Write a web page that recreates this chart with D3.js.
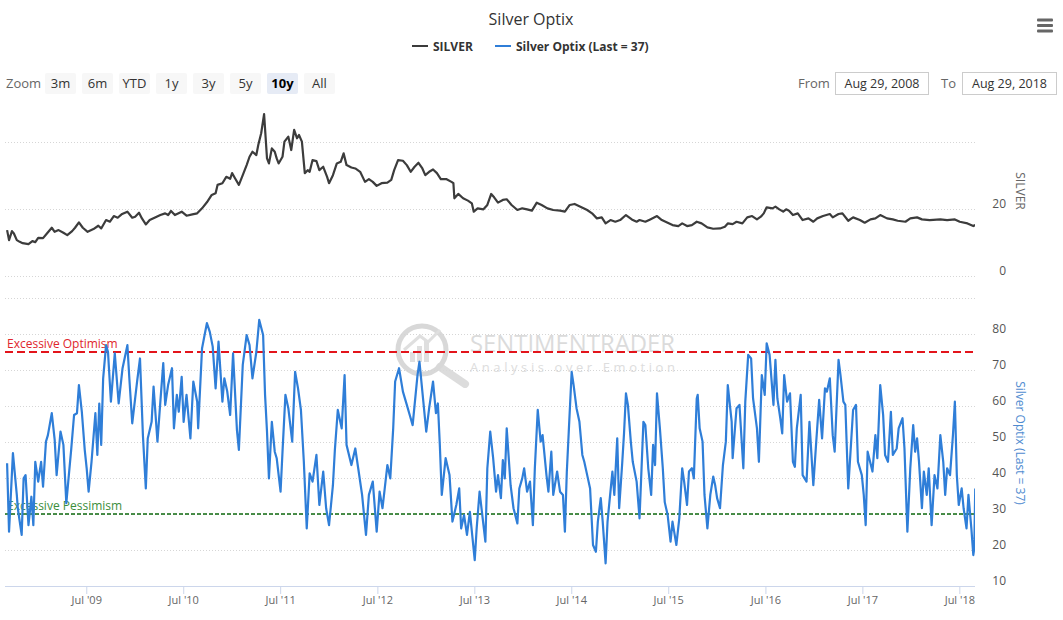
<!DOCTYPE html>
<html><head><meta charset="utf-8">
<script src="https://cdn.jsdelivr.net/npm/d3@7"></script>
<style>
body{margin:0;background:#fff;}
svg{display:block;font-family:"Open Sans",sans-serif;}
</style></head><body>
<svg id="chart" width="1063" height="620"></svg>
<script>
// ---------- DATA (dates as decimal years) ----------
const silverYears = [
2008.68,2008.70,2008.73,2008.75,2008.78,2008.81,2008.84,2008.90,2008.94,2008.97,
2009.00,2009.05,2009.09,2009.14,2009.17,2009.21,2009.26,2009.30,2009.35,2009.38,
2009.42,2009.46,2009.51,2009.57,2009.62,2009.65,2009.70,2009.74,2009.78,2009.82,
2009.86,2009.92,2009.97,2010.00,2010.04,2010.07,2010.11,2010.15,2010.20,2010.26,
2010.31,2010.34,2010.37,2010.41,2010.48,2010.53,2010.59,2010.64,2010.69,2010.74,
2010.79,2010.83,2010.85,2010.90,2010.94,2010.98,2011.00,2011.03,2011.07,2011.11,
2011.15,2011.18,2011.21,2011.25,2011.27,2011.30,2011.33,2011.36,2011.38,2011.41,
2011.44,2011.46,2011.48,2011.52,2011.54,2011.58,2011.61,2011.64,2011.67,2011.69,
2011.72,2011.75,2011.78,2011.80,2011.83,2011.87,2011.90,2011.94,2011.98,2012.00,
2012.04,2012.08,2012.12,2012.15,2012.18,2012.23,2012.27,2012.32,2012.37,2012.41,
2012.45,2012.49,2012.54,2012.60,2012.64,2012.67,2012.71,2012.76,2012.80,2012.84,
2012.88,2012.92,2012.96,2012.99,2013.03,2013.07,2013.11,2013.15,2013.21,2013.26,
2013.28,2013.29,2013.33,2013.38,2013.43,2013.47,2013.49,2013.53,2013.59,2013.63,
2013.67,2013.70,2013.74,2013.79,2013.83,2013.88,2013.94,2013.99,2014.04,2014.09,
2014.14,2014.19,2014.25,2014.31,2014.38,2014.43,2014.48,2014.53,2014.59,2014.66,
2014.71,2014.76,2014.81,2014.85,2014.90,2014.95,2015.00,2015.06,2015.12,2015.17,
2015.20,2015.26,2015.31,2015.38,2015.43,2015.49,2015.54,2015.60,2015.64,2015.69,
2015.74,2015.79,2015.84,2015.90,2015.96,2016.03,2016.08,2016.11,2016.16,2016.20,
2016.26,2016.31,2016.36,2016.41,2016.45,2016.48,2016.51,2016.57,2016.60,2016.64,
2016.68,2016.71,2016.74,2016.78,2016.83,2016.88,2016.94,2016.99,2017.03,2017.09,
2017.16,2017.19,2017.25,2017.29,2017.35,2017.40,2017.47,2017.52,2017.58,2017.63,
2017.68,2017.75,2017.81,2017.86,2017.94,2017.99,2018.06,2018.11,2018.19,2018.30,
2018.37,2018.45,2018.50,2018.58,2018.64,2018.66];
const silverValues = [
13.7,10.7,13.4,12.7,10.7,10.2,9.8,9.5,10.4,10.1,
11.4,11.3,12.7,14.4,13.2,13.7,12.9,12.2,13.4,14.4,
16.0,14.4,13.2,14.0,15.0,14.2,16.7,16.2,17.9,17.4,
18.4,19.2,17.4,17.7,18.9,17.2,15.4,16.7,17.4,18.2,
18.7,18.2,19.4,18.2,19.2,18.0,18.4,18.7,20.2,22.0,
24.2,24.7,27.2,27.7,29.6,29.0,30.7,29.2,27.2,30.1,
33.1,35.6,37.1,36.1,39.1,42.6,48.3,35.1,33.6,38.1,
37.1,35.1,33.6,35.6,40.1,41.6,37.6,43.6,41.1,42.1,
40.1,30.7,31.6,31.1,34.6,34.3,31.6,32.6,29.6,27.7,
30.1,33.6,34.1,36.6,33.1,32.4,32.1,31.1,28.1,28.9,
28.1,26.9,27.7,27.9,28.7,31.6,34.6,34.4,33.1,31.1,
32.6,33.8,32.1,30.1,31.1,31.8,30.7,28.9,28.9,28.1,
27.7,23.2,24.5,23.2,22.5,21.7,19.2,20.2,19.9,21.2,
24.5,23.5,21.9,22.7,22.9,21.2,19.7,20.2,19.9,19.5,
21.9,21.2,20.2,19.7,19.5,19.2,21.2,21.5,20.7,19.7,
18.7,17.2,17.5,15.7,16.7,16.2,16.7,18.2,16.9,16.2,
16.7,16.2,16.9,17.9,16.7,15.9,15.2,14.9,15.7,14.9,
15.2,16.2,15.7,14.5,14.1,14.2,14.7,15.7,15.5,16.2,
15.7,17.5,17.9,16.9,17.7,18.7,20.5,20.2,20.7,19.9,
19.2,19.9,19.5,18.2,18.7,16.7,17.2,16.2,17.2,17.9,
18.5,17.5,18.5,18.7,16.5,17.5,16.7,15.9,16.9,17.2,
18.2,17.2,16.9,16.5,16.2,17.2,17.5,16.9,16.7,16.9,
16.7,16.9,16.2,15.7,14.9,15.2];

const optixYears = [
2008.68,2008.70,2008.74,2008.78,2008.79,2008.83,2008.85,2008.87,2008.90,2008.93,
2008.95,2008.97,2009.00,2009.03,2009.05,2009.08,2009.10,2009.14,2009.17,2009.19,
2009.23,2009.26,2009.29,2009.31,2009.34,2009.37,2009.40,2009.42,2009.45,2009.48,
2009.50,2009.52,2009.55,2009.59,2009.61,2009.63,2009.65,2009.67,2009.70,2009.72,
2009.75,2009.79,2009.83,2009.87,2009.92,2009.94,2009.97,2010.00,2010.02,2010.05,
2010.08,2010.11,2010.13,2010.17,2010.19,2010.23,2010.26,2010.29,2010.31,2010.34,
2010.38,2010.40,2010.43,2010.45,2010.48,2010.50,2010.53,2010.57,2010.60,2010.64,
2010.65,2010.69,2010.71,2010.74,2010.77,2010.80,2010.83,2010.86,2010.90,2010.92,
2010.95,2010.98,2011.01,2011.05,2011.07,
2011.11,2011.15,2011.18,2011.21,2011.25,2011.28,2011.32,2011.34,2011.36,2011.38,
2011.41,2011.44,2011.46,2011.50,2011.52,2011.55,2011.58,2011.62,2011.65,2011.68,
2011.71,2011.74,2011.77,2011.80,2011.83,2011.87,2011.90,2011.94,2011.97,2012.00,
2012.04,2012.06,2012.09,2012.13,2012.16,2012.18,2012.23,2012.27,2012.30,2012.34,
2012.38,2012.41,2012.45,2012.49,2012.52,2012.55,2012.60,2012.63,2012.66,2012.68,
2012.72,2012.76,2012.80,2012.83,2012.86,2012.91,2012.93,2012.97,2013.00,2013.03,
2013.07,2013.10,2013.12,2013.14,2013.16,2013.20,2013.24,2013.27,2013.31,2013.34,
2013.36,2013.39,2013.42,2013.45,2013.50,2013.52,
2013.55,2013.61,2013.63,2013.66,2013.69,2013.72,2013.74,2013.77,2013.79,2013.81,
2013.83,2013.87,2013.90,2013.94,2013.96,2013.99,2014.01,2014.04,2014.07,2014.10,
2014.12,2014.15,2014.18,2014.20,2014.24,2014.26,2014.29,2014.31,2014.35,2014.38,
2014.41,2014.43,2014.45,2014.47,2014.50,2014.52,2014.55,2014.58,2014.61,2014.63,
2014.66,2014.69,2014.72,2014.75,2014.77,2014.80,2014.82,2014.85,2014.87,2014.92,
2014.94,2014.97,2014.99,2015.02,2015.04,2015.06,2015.08,2015.11,2015.13,2015.17,
2015.20,2015.24,2015.26,2015.29,2015.32,2015.34,2015.36,2015.38,2015.41,2015.44,
2015.46,2015.49,2015.52,2015.54,2015.58,2015.61,2015.64,2015.66,2015.69,2015.71,
2015.74,2015.76,2015.79,2015.80,2015.82,2015.85,2015.87,2015.90,2015.93,2015.96,
2015.98,2016.00,
2016.03,2016.06,2016.09,2016.11,2016.15,2016.16,2016.20,2016.23,2016.27,2016.29,
2016.32,2016.35,2016.37,2016.41,2016.43,2016.46,2016.49,2016.51,2016.54,2016.58,
2016.60,2016.62,2016.65,2016.67,2016.69,2016.72,2016.75,2016.78,2016.80,2016.82,
2016.86,2016.88,2016.92,2016.95,2016.99,2017.02,2017.05,2017.08,2017.11,2017.13,
2017.16,2017.19,2017.21,2017.25,2017.27,2017.30,2017.32,2017.35,2017.38,2017.40,
2017.43,2017.45,2017.49,2017.51,2017.53,2017.55,2017.60,2017.63,2017.65,2017.68,
2017.71,2017.73,2017.76,2017.79,2017.81,2017.85,2017.87,2017.91,2017.93,2017.96,
2017.99,2018.02,2018.04,2018.06,2018.08,2018.11,2018.13,2018.16,2018.18,2018.21,
2018.24,2018.27,2018.30,2018.33,2018.35,2018.37,2018.40,2018.43,2018.45,2018.47,
2018.49,2018.52,2018.54,2018.57,2018.59,2018.62,2018.64,2018.65,2018.66];
const optixValues = [
44.1,25.1,46.9,35.3,31.6,24.2,39.9,40.8,26.9,34.8,
26.9,44.5,39.0,44.5,37.6,50.1,51.9,58.0,50.6,40.8,
52.9,49.2,33.0,39.0,47.8,57.5,58.0,65.8,58.4,47.8,
42.7,36.2,44.5,58.0,46.4,60.7,49.2,67.7,76.9,75.0,
61.2,74.6,60.7,70.5,76.9,67.7,55.2,62.1,66.8,73.2,
51.9,37.1,51.0,55.6,65.4,50.1,61.2,71.9,60.3,65.8,
70.5,53.8,63.1,58.4,68.1,55.6,63.1,51.0,66.8,61.2,
53.8,76.0,78.8,83.0,80.6,76.5,64.9,77.9,61.2,67.7,
64.0,57.5,74.6,53.3,47.8,
71.4,79.7,76.9,67.7,75.0,83.9,79.7,63.1,52.9,39.9,
55.6,47.3,45.5,36.2,47.3,63.1,59.4,50.1,69.5,64.9,
58.9,44.5,26.0,41.3,39.0,46.4,32.5,41.8,31.6,26.9,
38.0,47.8,58.9,53.8,68.6,49.2,43.6,48.2,42.7,35.3,
24.2,35.3,39.0,25.1,36.2,31.6,43.6,39.9,53.8,66.8,
70.5,64.0,60.3,57.5,54.7,68.6,72.3,61.2,52.9,59.4,
66.8,58.0,60.7,49.2,35.3,45.5,40.8,27.9,32.5,37.1,
26.0,29.7,24.2,30.6,17.2,26.0,
36.2,22.3,42.7,52.9,45.5,36.2,40.8,34.4,45.0,39.9,
53.8,38.0,31.6,27.4,37.1,39.9,42.7,36.2,39.0,26.9,
42.7,58.9,50.1,51.9,40.8,36.2,47.3,35.3,41.8,36.2,
35.3,25.1,41.8,52.9,69.5,65.8,59.4,55.6,46.4,44.5,
40.8,37.1,21.4,19.5,27.9,34.4,27.9,16.3,27.9,41.8,
35.3,51.0,31.6,43.6,52.4,63.5,60.3,50.1,44.5,39.0,
28.8,55.6,54.7,42.7,35.3,49.2,43.6,63.5,53.8,42.7,
33.3,29.7,22.3,27.9,21.4,28.8,42.7,39.0,32.5,41.8,
42.7,39.9,62.1,63.1,53.8,50.1,35.3,26.0,35.3,40.4,
38.0,34.4,
31.6,43.6,50.1,65.8,55.6,45.5,59.4,60.3,42.7,61.2,
74.2,73.2,62.1,53.8,44.5,68.6,63.1,77.4,74.2,60.3,
72.8,62.1,56.6,52.4,68.6,61.2,63.5,44.5,43.1,53.8,
63.1,40.8,39.0,55.6,38.0,50.1,61.7,51.0,64.9,64.0,
67.7,51.9,47.3,72.8,68.6,61.2,60.3,37.1,50.1,58.9,
60.3,44.5,40.8,35.3,26.9,47.3,41.8,51.9,45.5,65.8,
57.5,46.4,44.5,58.4,46.4,48.2,53.8,56.6,48.2,25.1,
42.7,54.7,47.3,51.0,44.5,31.6,41.8,35.3,42.7,26.9,
40.8,37.1,51.9,44.5,35.3,42.7,40.8,51.9,61.2,40.8,
32.5,37.1,31.6,26.0,35.3,26.0,18.6,20.5,37.1];

const xTickYears = [2009,2010,2011,2012,2013,2014,2015,2016,2017,2018];
const silverGridTicks = [0,20,40];
const silverLabelTicks = [0,20];
const optixGridTicks = [20,30,40,50,60,70,80,90];
const optixLabelTicks = [10,20,30,40,50,60,70,80];
const optimismLevel = 75;
const pessimismLevel = 30;
const rangeButtons = ["3m","6m","YTD","1y","3y","5y","10y","All"];
const selectedButton = "10y";
const fromText = "Aug 29, 2008";
const toText = "Aug 29, 2018";
const lastOptix = 37;

// ---------- helpers ----------
function yearToDate(d){
  const y = Math.floor(d);
  const s = new Date(y,0,1).getTime(), e = new Date(y+1,0,1).getTime();
  return new Date(s + (d - y) * (e - s));
}
const nS = Math.min(silverYears.length, silverValues.length);
const nO = Math.min(optixYears.length, optixValues.length);
const silverData = silverYears.slice(0,nS).map((t,i)=>({date:yearToDate(t), v:silverValues[i]}));
const optixData = optixYears.slice(0,nO).map((t,i)=>({date:yearToDate(t), v:optixValues[i]}));

const svg = d3.select("#chart");
const plotLeft = 5, plotRight = 975;
const x = d3.scaleTime().domain([new Date(2008,7,29), new Date(2018,7,29)]).range([plotLeft, plotRight]);
const yTop = d3.scaleLinear().domain([0,40]).range([276,142]);
const yBot = d3.scaleLinear().domain([10,90]).range([586,298]);

// ---------- title / legend ----------
svg.append("text").attr("x",531).attr("y",25).attr("text-anchor","middle")
  .attr("font-size",16).attr("fill","#333").text("Silver Optix");

const legend = [
  {label:"SILVER", color:"#3c3c3c", x:412},
  {label:`Silver Optix (Last = ${lastOptix})`, color:"#2f7ed8", x:495}
];
const lg = svg.append("g").selectAll("g").data(legend).join("g")
  .attr("transform", d=>`translate(${d.x},46)`);
lg.append("line").attr("x1",0).attr("x2",16).attr("y1",0).attr("y2",0)
  .attr("stroke",d=>d.color).attr("stroke-width",2);
lg.append("text").attr("x",21).attr("y",4.5).attr("font-size",12).attr("font-weight","bold")
  .attr("fill","#333").text(d=>d.label);

// hamburger
svg.append("g").selectAll("rect").data([0,1,2]).join("rect")
  .attr("x",1037).attr("y",d=>18.5+d*5.5).attr("width",16).attr("height",3).attr("rx",1).attr("fill","#666");

// ---------- range selector ----------
svg.append("text").attr("x",6).attr("y",88).attr("font-size",13).attr("fill","#666").text("Zoom");
const bg = svg.append("g").selectAll("g").data(rangeButtons).join("g")
  .attr("transform",(d,i)=>`translate(${45+i*37},73)`);
bg.append("rect").attr("width",31).attr("height",21).attr("rx",2)
  .attr("fill",d=>d===selectedButton?"#e6ebf5":"#f7f7f7");
bg.append("text").attr("x",15.5).attr("y",15).attr("text-anchor","middle").attr("font-size",13)
  .attr("font-weight",d=>d===selectedButton?"bold":"normal")
  .attr("fill",d=>d===selectedButton?"#000":"#333").text(d=>d);

svg.append("text").attr("x",798).attr("y",88).attr("font-size",13).attr("fill","#666").text("From");
svg.append("rect").attr("x",835.5).attr("y",72.5).attr("width",93).attr("height",22).attr("fill","#fff").attr("stroke","#ccc");
svg.append("text").attr("x",882).attr("y",88).attr("text-anchor","middle").attr("font-size",12.5).attr("fill","#333").text(fromText);
svg.append("text").attr("x",941).attr("y",88).attr("font-size",13).attr("fill","#666").text("To");
svg.append("rect").attr("x",962.5).attr("y",72.5).attr("width",94).attr("height",22).attr("fill","#fff").attr("stroke","#ccc");
svg.append("text").attr("x",1009.5).attr("y",88).attr("text-anchor","middle").attr("font-size",12.5).attr("fill","#333").text(toText);

// ---------- grid lines ----------
const grid = svg.append("g").attr("stroke","#d6d6d6").attr("stroke-width",1).attr("stroke-dasharray","1,2");
grid.selectAll("line.t").data(silverGridTicks).join("line").attr("class","t")
  .attr("x1",plotLeft).attr("x2",plotRight).attr("y1",d=>Math.round(yTop(d))+0.5).attr("y2",d=>Math.round(yTop(d))+0.5);
grid.selectAll("line.b").data(optixGridTicks).join("line").attr("class","b")
  .attr("x1",plotLeft).attr("x2",plotRight).attr("y1",d=>Math.round(yBot(d))+0.5).attr("y2",d=>Math.round(yBot(d))+0.5);

// ---------- right axes ----------
const axTop = svg.append("g").attr("transform","translate(1008,0)")
  .call(d3.axisLeft(yTop).tickValues(silverLabelTicks).tickSize(0).tickPadding(2));
const axBot = svg.append("g").attr("transform","translate(1008,0)")
  .call(d3.axisLeft(yBot).tickValues(optixLabelTicks).tickSize(0).tickPadding(2));
[axTop, axBot].forEach(a=>{
  a.select(".domain").remove();
  a.selectAll("text").attr("dy","-2px").attr("font-size",12).attr("fill","#555")
    .attr("font-family",'"Open Sans",sans-serif');
});
svg.append("text").attr("transform","translate(1016,191) rotate(90)").attr("text-anchor","middle")
  .attr("font-size",12).attr("fill","#666").text("SILVER");
svg.append("text").attr("transform","translate(1016,443) rotate(90)").attr("text-anchor","middle")
  .attr("font-size",12).attr("fill","#4f8bd0").text(`Silver Optix (Last = ${lastOptix})`);

// ---------- x axis ----------
const xAxis = svg.append("g").attr("transform","translate(0,586)")
  .call(d3.axisBottom(x).tickValues(xTickYears.map(y=>new Date(y,6,1)))
    .tickFormat(d3.timeFormat("%b '%y")).tickSize(8).tickPadding(2).tickSizeOuter(0));
xAxis.select(".domain").attr("stroke","#ccd6eb").attr("d",`M${plotLeft},0.5H${plotRight}`);
xAxis.selectAll(".tick line").attr("stroke","#ccd6eb");
xAxis.selectAll(".tick text").attr("font-size",11).attr("fill","#666").attr("font-family",'"Open Sans",sans-serif');

// ---------- watermark ----------
const wm = svg.append("g").attr("opacity",0.9);
wm.append("line").attr("x1",440).attr("y1",367).attr("x2",465).attr("y2",384)
  .attr("stroke","#d9d9d9").attr("stroke-width",8).attr("stroke-linecap","round");
wm.append("circle").attr("cx",422).attr("cy",350).attr("r",24).attr("fill","none")
  .attr("stroke","#d4d4d4").attr("stroke-width",5);
wm.append("g").selectAll("rect").data([[410,10],[417,16],[424,22]]).join("rect")
  .attr("x",d=>d[0]).attr("y",d=>362-d[1]).attr("width",5).attr("height",d=>d[1]).attr("fill","#dcdcdc");
wm.append("path").attr("d","M404,350 L420,336 L428,342 L440,330").attr("fill","none")
  .attr("stroke","#dcdcdc").attr("stroke-width",3);
wm.append("text").attr("x",470).attr("y",352).attr("font-size",23).attr("fill","#d8d8d8")
  .attr("textLength",205).attr("lengthAdjust","spacingAndGlyphs").text("SENTIMENTRADER");
wm.append("text").attr("x",470).attr("y",372).attr("font-size",13).attr("fill","#dadada")
  .attr("textLength",205).attr("lengthAdjust","spacing").text("Analysis over Emotion");

// ---------- threshold lines ----------
svg.append("line").attr("x1",plotLeft).attr("x2",plotRight)
  .attr("y1",yBot(optimismLevel)).attr("y2",yBot(optimismLevel))
  .attr("stroke","#e3141b").attr("stroke-width",2).attr("stroke-dasharray","8,4");
svg.append("text").attr("x",7).attr("y",yBot(optimismLevel)-4).attr("font-size",12)
  .attr("fill","#e0262c").text("Excessive Optimism");
svg.append("line").attr("x1",plotLeft).attr("x2",plotRight)
  .attr("y1",yBot(pessimismLevel)).attr("y2",yBot(pessimismLevel))
  .attr("stroke","#0f6a0f").attr("stroke-width",1.5).attr("stroke-dasharray","4,2");
svg.append("text").attr("x",7).attr("y",yBot(pessimismLevel)-4).attr("font-size",12)
  .attr("fill","#3b8e3b").text("Excessive Pessimism");

// ---------- series ----------
svg.append("clipPath").attr("id","plotclip").append("rect")
  .attr("x",plotLeft).attr("y",90).attr("width",plotRight-plotLeft).attr("height",500);
svg.append("path").datum(silverData).attr("clip-path","url(#plotclip)")
  .attr("fill","none").attr("stroke","#3c3c3c").attr("stroke-width",2.2).attr("stroke-linejoin","round")
  .attr("d", d3.line().x(d=>x(d.date)).y(d=>yTop(d.v)));
svg.append("path").datum(optixData).attr("clip-path","url(#plotclip)")
  .attr("fill","none").attr("stroke","#2f7ed8").attr("stroke-width",2.2).attr("stroke-linejoin","round")
  .attr("d", d3.line().x(d=>x(d.date)).y(d=>yBot(d.v)));
</script>
</body></html>
